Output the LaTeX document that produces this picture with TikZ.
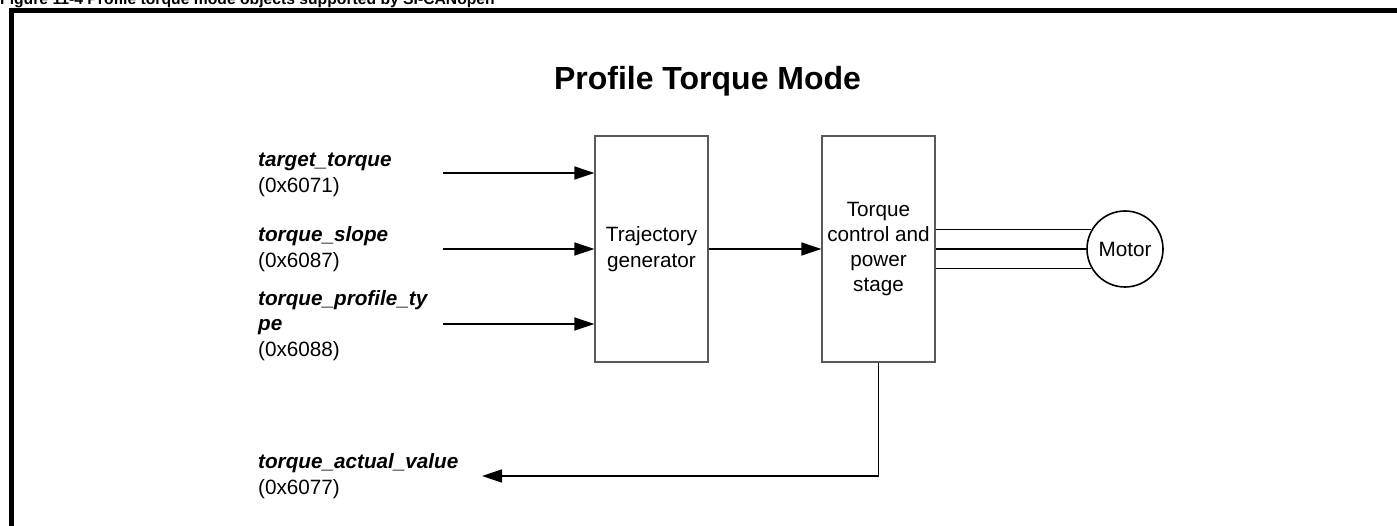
\documentclass[tikz,border=0pt]{standalone}
\usepackage{fontspec}
\setmainfont{Liberation Sans}
\usetikzlibrary{arrows.meta}
\begin{document}
\begin{tikzpicture}[x=1pt,y=-1pt,
  lbl/.style={anchor=base west,inner sep=0pt,font=\fontsize{20.7pt}{25pt}\selectfont},
  obj/.style={anchor=base west,inner sep=0pt,font=\fontsize{20.7pt}{25pt}\selectfont\bfseries\itshape},
  block/.style={draw=black!65,line width=1.3pt,minimum width=113pt,minimum height=226pt,inner sep=0pt,align=center,font=\fontsize{20.7pt}{25.3pt}\selectfont},
  sig/.style={line width=1.7pt,-{Triangle[length=20pt,width=13pt]}},
  wire/.style={line width=1.6pt},
  frame/.style={line width=5pt}]
\useasboundingbox (0,0) rectangle (1397,526);
\fill[white] (0,0) rectangle (1397,526);
% caption (cut off at the top)
\begin{scope}
\clip (0,0) rectangle (1397,526);
\node[anchor=base west,inner sep=0pt,font=\fontsize{15.7pt}{18pt}\selectfont\bfseries] (cap) at (0,5) {Figure 11-4 Profile torque mode objects supported by SI-CANopen};
\end{scope}
% frame
\coordinate (fB) at (11.5,526);
\coordinate (fC) at (11.5,10.5);
\coordinate (fR) at (1397,10.5);
\draw[frame] (fB) -- (fC) -- (fR);
% title
\node[anchor=base,inner sep=0pt,font=\fontsize{32pt}{38pt}\selectfont\bfseries] (title) at (707.5,90) {Profile Torque Mode};
% blocks
\node[block] (tg) at (651.5,249) {Trajectory\\generator};
\node[block] (tc) at (878.5,249) {Torque\\control and\\power\\stage};
\node[draw=black,line width=1.6pt,circle,minimum size=76pt,inner sep=0pt,font=\fontsize{20.7pt}{25pt}\selectfont] (motor) at (1125,249) {Motor};
% input labels
\node[obj] (l1a) at (258,167) {target\_torque};
\node[lbl] (l1b) at (258,193) {(0x6071)};
\node[obj] (l2a) at (258,242) {torque\_slope};
\node[lbl] (l2b) at (258,268) {(0x6087)};
\node[obj] (l3a) at (258,306) {torque\_profile\_ty};
\node[obj] (l3b) at (258,331) {pe};
\node[lbl] (l3c) at (258,357) {(0x6088)};
\node[obj] (l4a) at (258,468) {torque\_actual\_value};
\node[lbl] (l4b) at (258,494) {(0x6077)};
% input arrows
\coordinate (in1) at (443,173);
\coordinate (in2) at (443,249);
\coordinate (in3) at (443,324);
\draw[sig] (in1) -- (in1 -| tg.west);
\draw[sig] (in2) -- (in2 -| tg.west);
\draw[sig] (in3) -- (in3 -| tg.west);
% between blocks
\draw[sig] (tg.east) -- (tc.west);
% motor wires
\draw[wire] (motor.150 -| tc.east) -- (motor.150);
\draw[wire] (tc.east) -- (motor.west);
\draw[wire] (motor.210 -| tc.east) -- (motor.210);
% feedback
\coordinate (out) at (482,476);
\draw[sig] (tc.south) |- (out);
\end{tikzpicture}
\end{document}
